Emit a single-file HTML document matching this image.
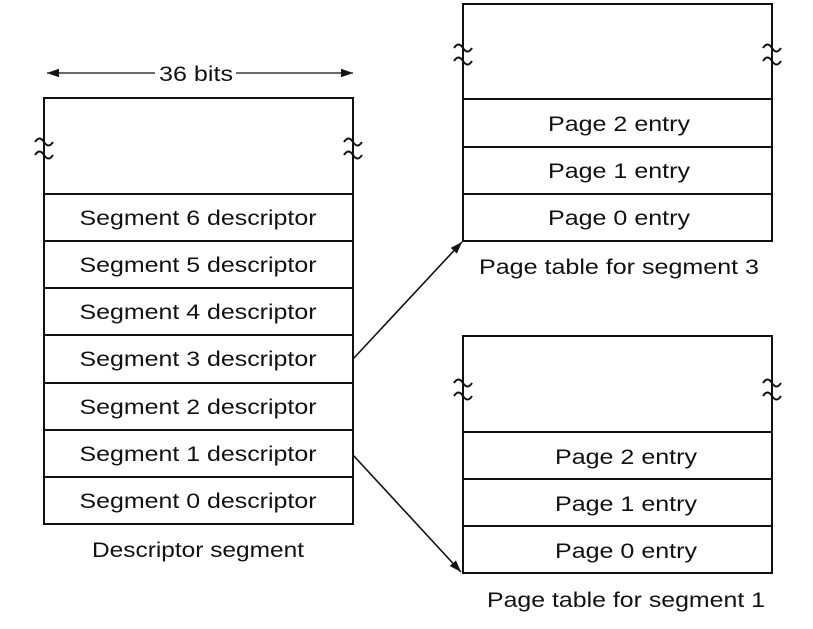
<!DOCTYPE html>
<html><head><meta charset="utf-8"><style>html,body{margin:0;padding:0;background:#fff;}</style></head>
<body>
<svg width="813" height="624" viewBox="0 0 813 624" xmlns="http://www.w3.org/2000/svg" font-family="Liberation Sans, Arial, sans-serif" font-size="21" fill="#111">
<defs>
<marker id="ah" viewBox="0 0 10 10" refX="10" refY="5" markerWidth="12" markerHeight="12" orient="auto-start-reverse" markerUnits="userSpaceOnUse"><path d="M0,1.5 L10,5 L0,8.5 Z" fill="#111"/></marker>
</defs>
<g stroke="#111" stroke-width="2" fill="none">
<rect x="44" y="98" width="309" height="426"/>
<line x1="44" y1="194" x2="353" y2="194"/>
<line x1="44" y1="241" x2="353" y2="241"/>
<line x1="44" y1="288" x2="353" y2="288"/>
<line x1="44" y1="335" x2="353" y2="335"/>
<line x1="44" y1="383" x2="353" y2="383"/>
<line x1="44" y1="430" x2="353" y2="430"/>
<line x1="44" y1="477" x2="353" y2="477"/>
<rect x="463" y="4" width="309" height="237"/>
<line x1="463" y1="99" x2="772" y2="99"/>
<line x1="463" y1="147" x2="772" y2="147"/>
<line x1="463" y1="194" x2="772" y2="194"/>
<rect x="463" y="336" width="309" height="237"/>
<line x1="463" y1="432" x2="772" y2="432"/>
<line x1="463" y1="479" x2="772" y2="479"/>
<line x1="463" y1="526" x2="772" y2="526"/>
<line x1="353" y1="359" x2="462" y2="242" marker-end="url(#ah)" stroke-width="1.6"/>
<line x1="353" y1="455" x2="461" y2="572" marker-end="url(#ah)" stroke-width="1.6"/>
<line x1="47" y1="73" x2="155" y2="73" marker-start="url(#ah)" stroke-width="1.3"/>
<line x1="236" y1="73" x2="353" y2="73" marker-end="url(#ah)" stroke-width="1.3"/>
</g>
<g stroke="#111" stroke-width="2" fill="none">
<path d="M35,142 q4.5,-7 9,0 t9,0 M35,155 q4.5,-7 9,0 t9,0"/>
<path d="M344,142 q4.5,-7 9,0 t9,0 M344,155 q4.5,-7 9,0 t9,0"/>
<path d="M454,48 q4.5,-7 9,0 t9,0 M454,61 q4.5,-7 9,0 t9,0"/>
<path d="M763,48 q4.5,-7 9,0 t9,0 M763,61 q4.5,-7 9,0 t9,0"/>
<path d="M454,383 q4.5,-7 9,0 t9,0 M454,396 q4.5,-7 9,0 t9,0"/>
<path d="M763,383 q4.5,-7 9,0 t9,0 M763,396 q4.5,-7 9,0 t9,0"/>
</g>
<g text-anchor="middle">
<rect x="158" y="60" width="76" height="26" fill="#fff"/>
<text x="196" y="81" textLength="74" lengthAdjust="spacingAndGlyphs">36 bits</text>
<text x="198" y="225" textLength="237" lengthAdjust="spacingAndGlyphs">Segment 6 descriptor</text>
<text x="198" y="272" textLength="237" lengthAdjust="spacingAndGlyphs">Segment 5 descriptor</text>
<text x="198" y="319" textLength="237" lengthAdjust="spacingAndGlyphs">Segment 4 descriptor</text>
<text x="198" y="366" textLength="237" lengthAdjust="spacingAndGlyphs">Segment 3 descriptor</text>
<text x="198" y="414" textLength="237" lengthAdjust="spacingAndGlyphs">Segment 2 descriptor</text>
<text x="198" y="461" textLength="237" lengthAdjust="spacingAndGlyphs">Segment 1 descriptor</text>
<text x="198" y="508" textLength="237" lengthAdjust="spacingAndGlyphs">Segment 0 descriptor</text>
<text x="198" y="557" textLength="212" lengthAdjust="spacingAndGlyphs">Descriptor segment</text>
<text x="619" y="131" textLength="142" lengthAdjust="spacingAndGlyphs">Page 2 entry</text>
<text x="619" y="178" textLength="142" lengthAdjust="spacingAndGlyphs">Page 1 entry</text>
<text x="619" y="225" textLength="142" lengthAdjust="spacingAndGlyphs">Page 0 entry</text>
<text x="619" y="274" textLength="280" lengthAdjust="spacingAndGlyphs">Page table for segment 3</text>
<text x="626" y="464" textLength="142" lengthAdjust="spacingAndGlyphs">Page 2 entry</text>
<text x="626" y="511" textLength="142" lengthAdjust="spacingAndGlyphs">Page 1 entry</text>
<text x="626" y="558" textLength="142" lengthAdjust="spacingAndGlyphs">Page 0 entry</text>
<text x="626" y="607" textLength="278" lengthAdjust="spacingAndGlyphs">Page table for segment 1</text>
</g>
</svg>
</body></html>
